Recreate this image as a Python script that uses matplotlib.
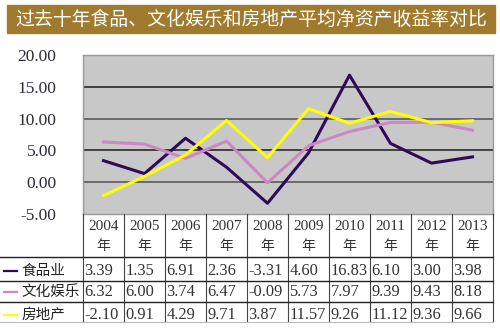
import matplotlib.pyplot as plt
from matplotlib.lines import Line2D

plt.rcParams['font.family'] = ['Liberation Serif', 'Noto Sans CJK SC']

years = ['2004', '2005', '2006', '2007', '2008', '2009', '2010', '2011', '2012', '2013']
food = [3.39, 1.35, 6.91, 2.36, -3.31, 4.60, 16.83, 6.10, 3.00, 3.98]
culture = [6.32, 6.00, 3.74, 6.47, -0.09, 5.73, 7.97, 9.39, 9.43, 8.18]
estate = [-2.10, 0.91, 4.29, 9.71, 3.87, 11.57, 9.26, 11.12, 9.36, 9.66]
series = [('食品业', food, '#2d0b5a'),
          ('文化娱乐', culture, '#cc88c4'),
          ('房地产', estate, '#ffff00')]

W, H = 500, 331
fig = plt.figure(figsize=(W / 100, H / 100), dpi=100)
fig.patch.set_facecolor('white')

# title bar
fig.patches.append(plt.Rectangle((7 / W, 1 - 33 / H), 488 / W, 28 / H,
                                 transform=fig.transFigure, color='#a07b2d'))
fig.text(251 / W, 1 - 19 / H, '过去十年食品、文化娱乐和房地产平均净资产收益率对比',
         family=['Noto Sans CJK SC'], color='white', fontsize=13.6,
         ha='center', va='center')

# plot area
x0, x1, ytop, ybot = 83, 493, 55, 214
ax = fig.add_axes([x0 / W, 1 - ybot / H, (x1 - x0) / W, (ybot - ytop) / H])
ax.set_facecolor('#c8c8c8')
xs = [i + 0.5 for i in range(len(years))]
for name, vals, col in series:
    ax.plot(xs, vals, color=col, lw=2.2)
ax.set_xlim(0, 10)
ax.set_ylim(-5, 20)
ax.set_yticks([-5, 0, 5, 10, 15, 20])
ax.set_yticklabels([f'{v:.2f}' for v in [-5, 0, 5, 10, 15, 20]],
                   fontsize=12.5, color='#2a2a3a')
ax.tick_params(axis='y', length=0, pad=19)
ax.set_xticks(range(11))
ax.set_xticklabels([])
ax.tick_params(axis='x', length=4, direction='out', color='#555555')
for v in [0, 5, 10, 15]:
    ax.axhline(v, color='#2a2a2a' if v in (5, 15) else '#5a5a5a', lw=1.2, zorder=0.5)
for s in ax.spines.values():
    s.set_color('#999999')
    s.set_linewidth(1)

# data table underneath
col_w = (x1 - x0) / len(years)
hdr_top = 214
row_edges = [257, 281, 302, 322]
text_y = [271, 292, 315]


def fx(px):
    return px / W


def fy(py):
    return 1 - py / H


for i in range(len(years) + 1):
    xp = x0 + i * col_w
    fig.add_artist(Line2D([fx(xp), fx(xp)], [fy(hdr_top), fy(row_edges[-1])],
                          color='#444444', lw=0.8))
for yp in row_edges[:-1]:
    fig.add_artist(Line2D([fx(0), fx(x1)], [fy(yp), fy(yp)], color='#222222', lw=1.0))
fig.add_artist(Line2D([fx(0), fx(x1)], [fy(row_edges[-1]), fy(row_edges[-1])],
                      color='#bbbbbb', lw=0.8))

for i, yr in enumerate(years):
    cx = x0 + (i + 0.5) * col_w
    fig.text(fx(cx), fy(227), yr, ha='center', va='center', fontsize=11, color='#333333')
    fig.text(fx(cx), fy(246), '年', ha='center', va='center', fontsize=10,
             family=['Noto Sans CJK SC'], color='#333333')

for r, (name, vals, col) in enumerate(series):
    cy = text_y[r]
    fig.add_artist(Line2D([fx(4), fx(17)], [fy(cy), fy(cy)], color=col, lw=1.6))
    fig.text(fx(21), fy(cy), name, ha='left', va='center', fontsize=10.5,
             family=['Noto Sans CJK SC'], color='#222222')
    for i, v in enumerate(vals):
        fig.text(fx(x0 + i * col_w + 1.5), fy(cy), f'{v:.2f}', ha='left', va='center',
                 fontsize=11.8, color='#333333')

fig.savefig('out.png', dpi=100)
